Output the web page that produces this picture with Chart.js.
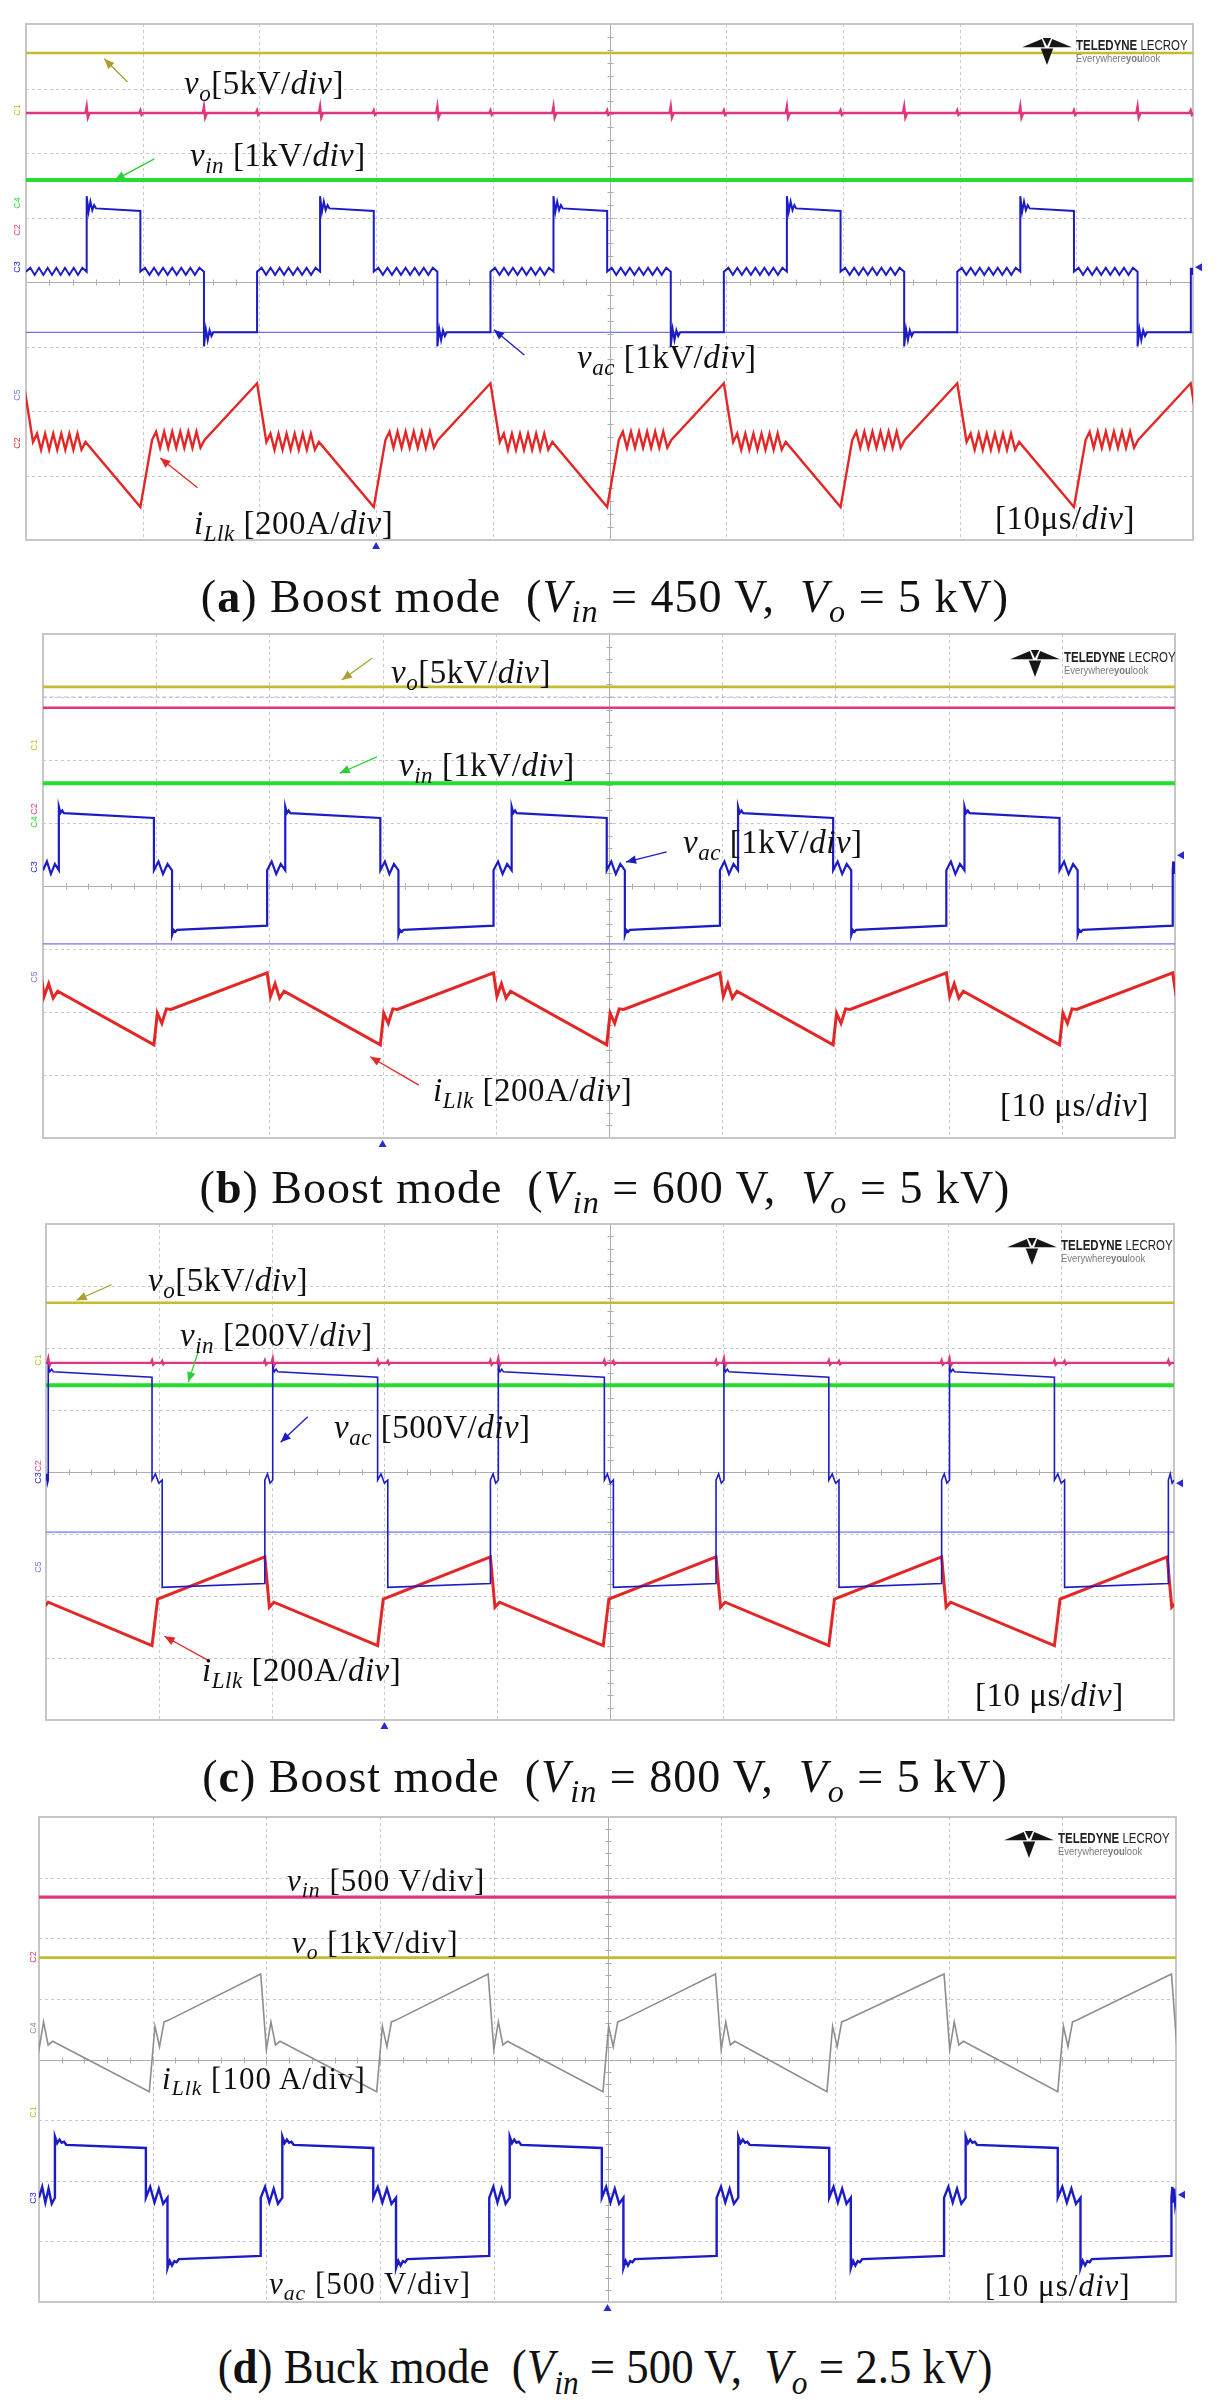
<!DOCTYPE html>
<html>
<head>
<meta charset="utf-8">
<title>Boost / buck mode waveforms</title>
<script src="https://cdn.jsdelivr.net/npm/chart.js@4.4.1/dist/chart.umd.min.js"></script>
<style>
  html, body { margin: 0; padding: 0; background: #fff; }
  body { position: relative; width: 1221px; height: 2407px; overflow: hidden; font-family: "Liberation Serif", "DejaVu Serif", serif; color: #111; }
  .panel { position: absolute; }
  .panel canvas { display: block; }
  .lbl { position: absolute; white-space: nowrap; line-height: 1; transform: translateY(-50%); font-size: 33px; letter-spacing: 0.5px; }
  .lbl.d { font-size: 31px; letter-spacing: 1px; }
  .lbl sub, .cap sub { font-size: 0.7em; vertical-align: -0.32em; line-height: 0; }
  .cap { position: absolute; left: 605px; white-space: nowrap; line-height: 1; transform: translate(-50%, -50%); font-size: 46px; letter-spacing: 1px; }
  .cap.d { transform: translate(-50%, -50%) scaleX(0.935); font-size: 48px; letter-spacing: 0; }
  .logo { position: absolute; display: flex; align-items: center; gap: 3px; font-family: "Liberation Sans", sans-serif; color: #222; }
  .logo .t1 { font-size: 14px; line-height: 13px; transform: scaleX(0.82); transform-origin: left; white-space: nowrap; }
  .logo .t2 { font-size: 11px; line-height: 12px; color: #7a7a7a; white-space: nowrap; transform: scaleX(0.86); transform-origin: left; }
  .ch { position: absolute; font-family: "Liberation Sans", sans-serif; font-size: 9px; line-height: 1; transform: translate(-50%, -50%) rotate(-90deg); }
</style>
</head>
<body>

<div class="panel" id="wrapA"><canvas id="scopeA"></canvas></div>
<div class="panel" id="wrapB"><canvas id="scopeB"></canvas></div>
<div class="panel" id="wrapC"><canvas id="scopeC"></canvas></div>
<div class="panel" id="wrapD"><canvas id="scopeD"></canvas></div>

<!-- panel (a) labels -->
<div class="lbl" style="left:184px;top:83px"><i>v</i><sub><i>o</i></sub>[5kV/<i>div</i>]</div>
<div class="lbl" style="left:190px;top:155px"><i>v</i><sub><i>in</i></sub> [1kV/<i>div</i>]</div>
<div class="lbl" style="left:577px;top:357px"><i>v</i><sub><i>ac</i></sub> [1kV/<i>div</i>]</div>
<div class="lbl" style="left:194px;top:523px"><i>i</i><sub><i>Llk</i></sub> [200A/<i>div</i>]</div>
<div class="lbl" style="left:995px;top:518px">[10μs/<i>div</i>]</div>
<div class="cap" style="top:597px">(<b>a</b>) Boost mode&nbsp; (<i>V</i><sub><i>in</i></sub> = 450 V,&nbsp; <i>V</i><sub><i>o</i></sub> = 5 kV)</div>

<!-- panel (b) labels -->
<div class="lbl" style="left:391px;top:672px"><i>v</i><sub><i>o</i></sub>[5kV/<i>div</i>]</div>
<div class="lbl" style="left:399px;top:765px"><i>v</i><sub><i>in</i></sub> [1kV/<i>div</i>]</div>
<div class="lbl" style="left:683px;top:842px"><i>v</i><sub><i>ac</i></sub> [1kV/<i>div</i>]</div>
<div class="lbl" style="left:433px;top:1090px"><i>i</i><sub><i>Llk</i></sub> [200A/<i>div</i>]</div>
<div class="lbl" style="left:1000px;top:1105px">[10 μs/<i>div</i>]</div>
<div class="cap" style="top:1188px">(<b>b</b>) Boost mode&nbsp; (<i>V</i><sub><i>in</i></sub> = 600 V,&nbsp; <i>V</i><sub><i>o</i></sub> = 5 kV)</div>

<!-- panel (c) labels -->
<div class="lbl" style="left:148px;top:1280px"><i>v</i><sub><i>o</i></sub>[5kV/<i>div</i>]</div>
<div class="lbl" style="left:180px;top:1335px"><i>v</i><sub><i>in</i></sub> [200V/<i>div</i>]</div>
<div class="lbl" style="left:334px;top:1427px"><i>v</i><sub><i>ac</i></sub> [500V/<i>div</i>]</div>
<div class="lbl" style="left:202px;top:1670px"><i>i</i><sub><i>Llk</i></sub> [200A/<i>div</i>]</div>
<div class="lbl" style="left:975px;top:1695px">[10 μs/<i>div</i>]</div>
<div class="cap" style="top:1777px">(<b>c</b>) Boost mode&nbsp; (<i>V</i><sub><i>in</i></sub> = 800 V,&nbsp; <i>V</i><sub><i>o</i></sub> = 5 kV)</div>

<!-- panel (d) labels -->
<div class="lbl d" style="left:287px;top:1880px"><i>v</i><sub><i>in</i></sub> [500 V/div]</div>
<div class="lbl d" style="left:292px;top:1942px"><i>v</i><sub><i>o</i></sub> [1kV/div]</div>
<div class="lbl d" style="left:162px;top:2078px"><i>i</i><sub><i>Llk</i></sub> [100 A/div]</div>
<div class="lbl d" style="left:269px;top:2283px"><i>v</i><sub><i>ac</i></sub> [500 V/div]</div>
<div class="lbl d" style="left:985px;top:2285px">[10 μs/<i>div</i>]</div>
<div class="cap d" style="top:2367px">(<b>d</b>) Buck mode&nbsp; (<i>V</i><sub><i>in</i></sub> = 500 V,&nbsp; <i>V</i><sub><i>o</i></sub> = 2.5 kV)</div>

<!-- scope channel tags on the left edge -->
<div class="ch" style="left:17px;top:110px;color:#c4bc2c">C1</div>
<div class="ch" style="left:17px;top:203px;color:#25dc30">C4</div>
<div class="ch" style="left:17px;top:230px;color:#e0357f">C2</div>
<div class="ch" style="left:17px;top:267px;color:#1c1cc6">C3</div>
<div class="ch" style="left:17px;top:395px;color:#7474e4">C5</div>
<div class="ch" style="left:17px;top:443px;color:#e32626">C2</div>
<div class="ch" style="left:34px;top:745px;color:#c4bc2c">C1</div>
<div class="ch" style="left:34px;top:809px;color:#e0357f">C2</div>
<div class="ch" style="left:34px;top:822px;color:#25dc30">C4</div>
<div class="ch" style="left:34px;top:867px;color:#1c1cc6">C3</div>
<div class="ch" style="left:34px;top:977px;color:#7474e4">C5</div>
<div class="ch" style="left:38px;top:1360px;color:#c4bc2c">C1</div>
<div class="ch" style="left:38px;top:1466px;color:#e0357f">C2</div>
<div class="ch" style="left:38px;top:1478px;color:#1c1cc6">C3</div>
<div class="ch" style="left:38px;top:1567px;color:#7474e4">C5</div>
<div class="ch" style="left:33px;top:1957px;color:#e0357f">C2</div>
<div class="ch" style="left:33px;top:2028px;color:#8e8e8e">C4</div>
<div class="ch" style="left:33px;top:2112px;color:#c4bc2c">C1</div>
<div class="ch" style="left:33px;top:2198px;color:#1c1cc6">C3</div>

<script>
// ---- data: all levels in divisions from the bottom of the screen (0..8), time in divisions (10 us/div) ----

// (a) Boost mode, Vin = 450 V
const aVo = 7.55;
const aPink = 6.62;
const aVin = 5.58;
const aRef = 3.22;
const aVacEdges = [0.52, 0.98, 1.525, 1.98, 2.52, 2.98, 3.525, 3.98, 4.52, 4.98, 5.525, 5.98, 6.52, 6.98, 7.525, 7.98, 8.52, 8.98, 9.525, 9.98];
const aVacStates = 'MHMLMHMLMHMLMHMLMHMLM';
const aVacHigh = [5.15, 5.10];
const aVacMid = [4.16, 4.16];
const aVacLow = [3.22, 3.22];
const aVacRipple = [0, 0.06, -0.05, 0.06, -0.05, 0.06, -0.05, 0.06, -0.05, 0.06, -0.05, 0.06, -0.05, 0.06, 0];
const aVacRingHigh = [0.18, -0.06, 0.1, -0.03, 0.05, 0];
const aVacRingLow = [-0.22, 0.05, -0.12, 0.03, -0.06, 0];
const aPinkSpikeAmp = [0.1, 0.04, 0.1, 0.04, 0.1, 0.04, 0.1, 0.04, 0.1, 0.04, 0.1, 0.04, 0.1, 0.04, 0.1, 0.04, 0.1, 0.04, 0.1, 0.04];
const aIlkPeaks = [-0.02, 1.98, 3.98, 5.98, 7.98, 9.98];
const aIlkTroughs = [0.98, 2.98, 4.98, 6.98, 8.98];
const aIlkAfterPeak = [[0, 2.43], [0.08, 1.52, 1], [0.53, 1.52]];
const aIlkAfterTrough = [[0, 0.51], [0.1, 1.55, 1], [0.55, 1.55]];
const aIlkRipple = [0, 0.13, -0.12, 0.13, -0.12, 0.13, -0.12, 0.13, -0.12, 0.13, -0.12, 0.13, -0.12, 0];

// (b) Boost mode, Vin = 600 V
const bVo = 7.16;
const bRefTop = 7.0;
const bPink = 6.83;
const bVin = 5.63;
const bRef = 3.08;
const bVacEdges = [0.14, 0.98, 1.14, 1.98, 2.14, 2.98, 3.14, 3.98, 4.14, 4.98, 5.14, 5.98, 6.14, 6.98, 7.14, 7.98, 8.14, 8.98, 9.14, 9.98];
const bVacStates = 'MHMLMHMLMHMLMHMLMHMLM';
const bVacHigh = [5.16, 5.08];
const bVacMid = [4.25, 4.25];
const bVacLow = [3.3, 3.37];
const bVacWiggle = [0, 0.14, -0.06, 0.1, 0];
const bVacRingHigh = [0.1, 0, 0.04, 0];
const bVacRingLow = [-0.08, 0, -0.03, 0];
const bIlkPeaks = [-0.02, 1.98, 3.98, 5.98, 7.98, 9.98];
const bIlkTroughs = [0.98, 2.98, 4.98, 6.98, 8.98];
const bIlkAfterPeak = [[0, 2.62], [0.03, 2.25], [0.07, 2.45], [0.11, 2.22], [0.15, 2.33]];
const bIlkAfterTrough = [[0, 1.48], [0.03, 1.98], [0.07, 1.82], [0.11, 2.05], [0.15, 2.04]];

// (c) Boost mode, Vin = 800 V
const cVo = 6.73;
const cPink = 5.76;
const cVin = 5.4;
const cRef = 3.03;
const cVacEdges = [0.02, 0.94, 1.03, 1.94, 2.01, 2.94, 3.03, 3.94, 4.01, 4.95, 5.03, 5.94, 6.01, 6.94, 7.03, 7.94, 8.01, 8.94, 9.03, 9.95];
const cVacStates = 'MHMLMHMLMHMLMHMLMHMLM';
const cVacHigh = [5.62, 5.53];
const cVacMid = [3.87, 3.87];
const cVacLow = [2.14, 2.2];
const cVacWiggle = [0, 0.1, -0.05, 0];
const cVacRingHigh = [0.08, 0, 0.04, 0];
const cPinkSpikeAmp = [0.07, 0.04, 0.03, 0.04, 0.07, 0.04, 0.03, 0.04, 0.07, 0.04, 0.03, 0.04, 0.07, 0.04, 0.03, 0.04, 0.07, 0.04, 0.03, 0.04];
const cIlkPeaks = [-0.06, 1.94, 3.94, 5.94, 7.94, 9.94];
const cIlkTroughs = [0.94, 2.94, 4.94, 6.94, 8.94];
const cIlkAfterPeak = [[0, 2.63], [0.04, 1.82], [0.08, 1.9]];
const cIlkAfterTrough = [[0, 1.2], [0.05, 1.95]];

// (d) Buck mode, Vin = 500 V
const dPink = 6.68;
const dVo = 5.68;
const dVacEdges = [0.14, 0.94, 1.13, 1.95, 2.14, 2.94, 3.14, 3.96, 4.14, 4.95, 5.14, 5.96, 6.15, 6.95, 7.14, 7.96, 8.15, 8.96, 9.16, 9.96];
const dVacStates = 'MHMLMHMLMHMLMHMLMHMLM';
const dVacHigh = [2.6, 2.54];
const dVacMid = [1.72, 1.72];
const dVacLow = [0.7, 0.76];
const dVacWiggle = [0, 0.18, -0.08, 0.15, -0.1, 0];
const dVacRingHigh = [0.13, 0.02, 0.08, 0.03, 0.05, 0];
const dVacRingLow = [-0.14, -0.02, -0.1, -0.03, -0.05, 0];
const dIlkPeaks = [-0.05, 1.95, 3.95, 5.95, 7.96, 9.96];
const dIlkTroughs = [0.97, 2.97, 4.96, 6.93, 8.96];
const dIlkAfterPeak = [[0, 5.41], [0.05, 4.16], [0.09, 4.62], [0.13, 4.24], [0.17, 4.3]];
const dIlkAfterTrough = [[0, 3.47], [0.05, 4.55], [0.09, 4.21], [0.13, 4.62], [0.17, 4.65]];

// ---- trace builders ----
const PAD = 14;

function flat(level) {
  return [{x: 0, y: level}, {x: 10, y: level}];
}

function spiky(level, times, amps) {
  const pts = [{x: 0, y: level}];
  times.forEach((t, i) => {
    pts.push({x: t - 0.01, y: level}, {x: t, y: level + amps[i]},
             {x: t + 0.01, y: level - amps[i] * 0.7}, {x: t + 0.025, y: level});
  });
  pts.push({x: 10, y: level});
  return pts;
}

// square-ish v_ac: states H/M/L between the edges, with decorations
function stepTrace(edges, states, levels, deco) {
  const bounds = [0, ...edges, 10];
  const pts = [];
  for (let i = 0; i < states.length; i++) {
    const s = bounds[i], e = bounds[i + 1], c = states[i];
    const [y0, y1] = levels[c];
    const at = t => y0 + (y1 - y0) * (t - s) / (e - s);
    const d = deco[c] || {};
    if (d.spread) {
      const n = d.spread.length;
      d.spread.forEach((o, k) => {
        const t = s + (e - s) * k / (n - 1);
        pts.push({x: t, y: at(t) + o});
      });
    } else if (d.ring) {
      d.ring.forEach((o, k) => {
        const t = Math.min(s + d.step * k, e);
        pts.push({x: t, y: at(t) + o});
      });
      pts.push({x: e, y: y1});
    } else {
      pts.push({x: s, y: y0}, {x: e, y: y1});
    }
  }
  return pts;
}

// inductor current: a shape after each peak (P) and trough (T), straight ramps in between
function eventTrace(peaks, troughs, shapes, ripple) {
  const events = [...peaks.map(t => [t, 'P']), ...troughs.map(t => [t, 'T'])].sort((a, b) => a[0] - b[0]);
  const pts = [];
  events.forEach(([t, k]) => {
    const sh = shapes[k];
    sh.forEach((p, j) => {
      pts.push({x: t + p[0], y: p[1]});
      if (p[2] && ripple && sh[j + 1]) {
        const q = sh[j + 1], n = ripple.length;
        for (let m = 1; m < n - 1; m++) {
          const f = m / (n - 1);
          pts.push({x: t + p[0] + (q[0] - p[0]) * f, y: p[1] + (q[1] - p[1]) * f + ripple[m]});
        }
      }
    });
  });
  return pts;
}

function line(data, color, width, extra) {
  return Object.assign({data, borderColor: color, borderWidth: width, pointRadius: 0, tension: 0, fill: false}, extra || {});
}

const YELLOW = '#c4bc2c', PINK = '#e0357f', GREEN = '#25dc30', BLUE = '#1c1cc6',
      LAV = '#7474e4', RED = '#e32626', GRAY = '#8e8e8e';

// ---- scope screen drawing ----
const scopeGrid = {
  id: 'scopeGrid',
  beforeDatasetsDraw(chart) {
    const {ctx, chartArea: a, scales: {x, y}} = chart;
    const seg = (x1, y1, x2, y2) => { ctx.beginPath(); ctx.moveTo(x1, y1); ctx.lineTo(x2, y2); ctx.stroke(); };
    ctx.save();
    ctx.lineWidth = 1;
    ctx.strokeStyle = '#c9c9c9';
    ctx.setLineDash([3, 3]);
    for (let i = 1; i < 10; i++) {
      if (i === 5) continue;
      const px = Math.round(x.getPixelForValue(i)) + 0.5;
      seg(px, a.top, px, a.bottom);
    }
    for (let j = 1; j < 8; j++) {
      if (j === 4) continue;
      const py = Math.round(y.getPixelForValue(j)) + 0.5;
      seg(a.left, py, a.right, py);
    }
    ctx.setLineDash([]);
    ctx.strokeStyle = '#adadad';
    const cx = Math.round(x.getPixelForValue(5)) + 0.5, cy = Math.round(y.getPixelForValue(4)) + 0.5;
    seg(cx, a.top, cx, a.bottom);
    seg(a.left, cy, a.right, cy);
    for (let k = 1; k < 50; k++) {
      const px = Math.round(x.getPixelForValue(k / 5)) + 0.5;
      seg(px, cy - 3, px, cy + 3);
    }
    for (let k = 1; k < 40; k++) {
      const py = Math.round(y.getPixelForValue(k / 5)) + 0.5;
      seg(cx - 3, py, cx + 3, py);
    }
    ctx.lineWidth = 2;
    ctx.strokeStyle = '#c6c6c6';
    ctx.strokeRect(a.left, a.top, a.width, a.height);
    ctx.restore();
  }
};

const scopeMarks = {
  id: 'scopeMarks',
  afterDatasetsDraw(chart, args, opts) {
    const {ctx, chartArea: a, scales: {x, y}} = chart;
    ctx.save();
    (opts.arrows || []).forEach(ar => {
      const x1 = x.getPixelForValue(ar.from[0]), y1 = y.getPixelForValue(ar.from[1]);
      const x2 = x.getPixelForValue(ar.to[0]), y2 = y.getPixelForValue(ar.to[1]);
      const ang = Math.atan2(y2 - y1, x2 - x1), L = 11;
      ctx.strokeStyle = ar.color; ctx.fillStyle = ar.color; ctx.lineWidth = 1.3;
      ctx.beginPath(); ctx.moveTo(x1, y1); ctx.lineTo(x2, y2); ctx.stroke();
      ctx.beginPath();
      ctx.moveTo(x2, y2);
      ctx.lineTo(x2 - L * Math.cos(ang - 0.4), y2 - L * Math.sin(ang - 0.4));
      ctx.lineTo(x2 - L * Math.cos(ang + 0.4), y2 - L * Math.sin(ang + 0.4));
      ctx.closePath(); ctx.fill();
    });
    ctx.fillStyle = '#2a2ad0';
    if (opts.trigger != null) {
      const px = x.getPixelForValue(opts.trigger);
      ctx.beginPath(); ctx.moveTo(px, a.bottom + 2); ctx.lineTo(px - 4, a.bottom + 9); ctx.lineTo(px + 4, a.bottom + 9); ctx.closePath(); ctx.fill();
    }
    if (opts.level != null) {
      const py = y.getPixelForValue(opts.level);
      ctx.beginPath(); ctx.moveTo(a.right + 2, py); ctx.lineTo(a.right + 9, py - 4); ctx.lineTo(a.right + 9, py + 4); ctx.closePath(); ctx.fill();
    }
    ctx.restore();
  }
};

function makeScope(id, box, datasets, marks) {
  const cv = document.getElementById('scope' + id);
  const wrap = document.getElementById('wrap' + id);
  wrap.style.left = (box[0] - PAD) + 'px';
  wrap.style.top = (box[1] - PAD) + 'px';
  cv.width = box[2] + 2 * PAD;
  cv.height = box[3] + 2 * PAD;
  return new Chart(cv, {
    type: 'line',
    data: {datasets},
    options: {
      responsive: false,
      animation: false,
      events: [],
      layout: {padding: PAD},
      scales: {
        x: {type: 'linear', min: 0, max: 10, display: false},
        y: {type: 'linear', min: 0, max: 8, display: false}
      },
      plugins: {legend: {display: false}, tooltip: {enabled: false}, scopeMarks: marks}
    },
    plugins: [scopeGrid, scopeMarks]
  });
}

function addLogo(left, top) {
  const el = document.createElement('div');
  el.className = 'logo';
  el.style.left = left + 'px';
  el.style.top = top + 'px';
  el.innerHTML = '<svg width="52" height="28" viewBox="0 0 48 27"><g fill="#161616">' +
    '<polygon points="0,10 19,2 22,10"/><polygon points="48,10 29,2 26,10"/>' +
    '<polygon points="18,11 30,11 24,27"/><polygon points="20,1 28,1 24,9"/></g></svg>' +
    '<div><div class="t1"><b>TELEDYNE</b> LECROY</div><div class="t2">Everywhere<b>you</b>look</div></div>';
  document.body.appendChild(el);
}

// ---- (a) ----
makeScope('A', [26, 24, 1167, 516], [
  line(stepTrace(aVacEdges, aVacStates, {H: aVacHigh, M: aVacMid, L: aVacLow},
    {M: {spread: aVacRipple}, H: {ring: aVacRingHigh, step: 0.016}, L: {ring: aVacRingLow, step: 0.016}}), BLUE, 2),
  line(eventTrace(aIlkPeaks, aIlkTroughs, {P: aIlkAfterPeak, T: aIlkAfterTrough}, aIlkRipple), RED, 2.4),
  line(spiky(aPink, aVacEdges, aPinkSpikeAmp), PINK, 2.4),
  line(flat(aVin), GREEN, 4),
  line(flat(aVo), YELLOW, 2.6),
  line(flat(aRef), LAV, 1.3)
], {
  trigger: 3.0, level: 4.23,
  arrows: [
    {from: [0.87, 7.1], to: [0.67, 7.46], color: '#a8a030'},
    {from: [1.10, 5.91], to: [0.76, 5.58], color: '#2ccf36'},
    {from: [4.27, 2.87], to: [4.01, 3.26], color: BLUE},
    {from: [1.47, 0.81], to: [1.15, 1.27], color: RED}
  ]
});
addLogo(1021, 37);

// ---- (b) ----
makeScope('B', [43, 634, 1132, 504], [
  line(stepTrace(bVacEdges, bVacStates, {H: bVacHigh, M: bVacMid, L: bVacLow},
    {M: {spread: bVacWiggle}, H: {ring: bVacRingHigh, step: 0.015}, L: {ring: bVacRingLow, step: 0.015}}), BLUE, 2.2),
  line(eventTrace(bIlkPeaks, bIlkTroughs, {P: bIlkAfterPeak, T: bIlkAfterTrough}), RED, 3),
  line(flat(bPink), PINK, 2.4),
  line(flat(bVin), GREEN, 4),
  line(flat(bVo), YELLOW, 2.6),
  line(flat(bRefTop), '#b8b8ee', 1, {borderDash: [4, 3]}),
  line(flat(bRef), LAV, 1.3)
], {
  trigger: 3.0, level: 4.49,
  arrows: [
    {from: [2.91, 7.62], to: [2.64, 7.27], color: '#a8a030'},
    {from: [2.95, 6.05], to: [2.62, 5.79], color: '#2ccf36'},
    {from: [5.51, 4.54], to: [5.15, 4.38], color: BLUE},
    {from: [3.32, 0.84], to: [2.89, 1.29], color: RED}
  ]
});
addLogo(1009, 649);

// ---- (c) ----
makeScope('C', [46, 1224, 1128, 496], [
  line(stepTrace(cVacEdges, cVacStates, {H: cVacHigh, M: cVacMid, L: cVacLow},
    {M: {spread: cVacWiggle}, H: {ring: cVacRingHigh, step: 0.015}}), BLUE, 1.6),
  line(eventTrace(cIlkPeaks, cIlkTroughs, {P: cIlkAfterPeak, T: cIlkAfterTrough}), RED, 3),
  line(spiky(cPink, cVacEdges, cPinkSpikeAmp), PINK, 2.4),
  line(flat(cVin), GREEN, 4),
  line(flat(cVo), YELLOW, 2.6),
  line(flat(cRef), LAV, 1.3)
], {
  trigger: 3.0, level: 3.82,
  arrows: [
    {from: [0.58, 7.02], to: [0.27, 6.77], color: '#a8a030'},
    {from: [1.35, 5.94], to: [1.26, 5.45], color: '#2ccf36'},
    {from: [2.32, 4.89], to: [2.08, 4.48], color: BLUE},
    {from: [1.45, 0.95], to: [1.05, 1.35], color: RED}
  ]
});
addLogo(1006, 1237);

// ---- (d) ----
makeScope('D', [39, 1817, 1137, 485], [
  line(stepTrace(dVacEdges, dVacStates, {H: dVacHigh, M: dVacMid, L: dVacLow},
    {M: {spread: dVacWiggle}, H: {ring: dVacRingHigh, step: 0.02}, L: {ring: dVacRingLow, step: 0.02}}), BLUE, 2.4),
  line(eventTrace(dIlkPeaks, dIlkTroughs, {P: dIlkAfterPeak, T: dIlkAfterTrough}), GRAY, 1.6),
  line(flat(dPink), PINK, 3.2),
  line(flat(dVo), YELLOW, 2.6)
], {trigger: 5.0, level: 1.77, arrows: []});
addLogo(1003, 1830);
</script>
</body>
</html>
